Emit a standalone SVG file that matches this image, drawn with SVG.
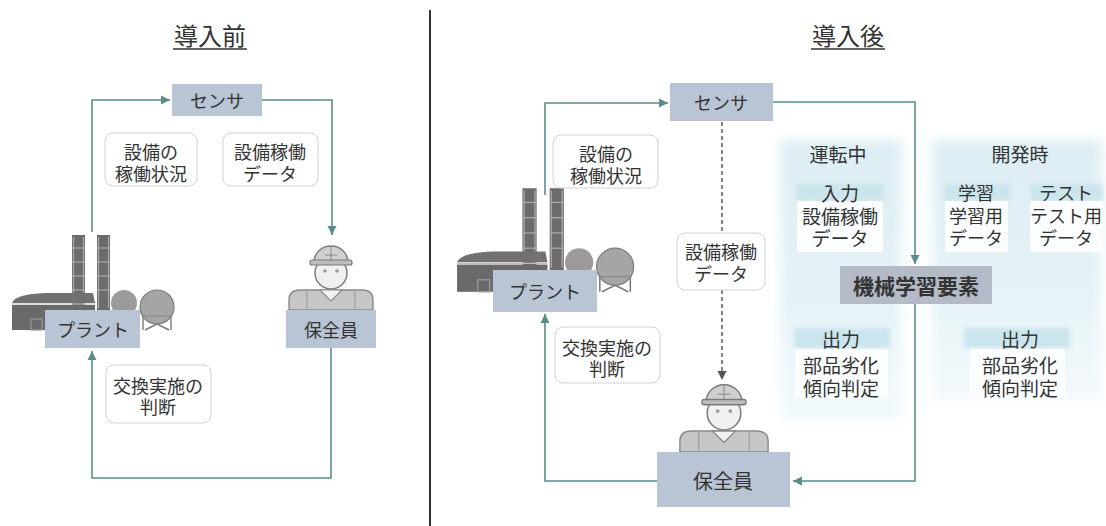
<svg xmlns="http://www.w3.org/2000/svg" width="1106" height="526" viewBox="0 0 1106 526">
  <style>
    text { font-family: "Noto Sans CJK JP", "Noto Sans", sans-serif; fill: #333; text-anchor: middle; dominant-baseline: central; }
    .title { font-size: 24px; }
    .node { fill: #b9c4d4; }
    .nodeText { font-size: 18px; }
    .label { fill: #ffffff; stroke: #d2d2d2; stroke-width: 1; }
    .labelText { font-size: 18px; }
    .flow { fill: none; stroke: #5a8c88; stroke-width: 1.6; }
    .dashed { fill: none; stroke: #666; stroke-width: 1.6; stroke-dasharray: 4 3; }
    .band { fill: #cbe5ed; }
    .cell { fill: #fbfdfe; }
    .mlText { font-size: 19px; }
    .small { font-size: 18px; }
  </style>
  <defs>
    <marker id="arrow" markerUnits="userSpaceOnUse" markerWidth="10" markerHeight="10" refX="9" refY="5" orient="auto">
      <path d="M0,0.5 L9,5 L0,9.5 Z" fill="#5a8c88"/>
    </marker>
    <marker id="arrowDark" markerUnits="userSpaceOnUse" markerWidth="10" markerHeight="10" refX="9" refY="5" orient="auto">
      <path d="M0,0.5 L9,5 L0,9.5 Z" fill="#555"/>
    </marker>
    <filter id="soft" x="-20%" y="-20%" width="140%" height="140%">
      <feGaussianBlur stdDeviation="6"/>
    </filter>
    <filter id="softer" x="-20%" y="-50%" width="140%" height="200%">
      <feGaussianBlur stdDeviation="2"/>
    </filter>
    <linearGradient id="panelGrad" x1="0" y1="0" x2="0" y2="1">
      <stop offset="0" stop-color="#dcedf3"/>
      <stop offset="0.6" stop-color="#e6f3f7"/>
      <stop offset="1" stop-color="#f4fafc"/>
    </linearGradient>
    <!-- factory: chimneys, hall and two spherical tanks; origin = top-left of the name plate -->
    <g id="plantArt">
      <rect x="27" y="-75" width="13" height="72" fill="#6c6c6c"/>
      <rect x="52" y="-75" width="13" height="75" fill="#6c6c6c"/>
      <g stroke="#a9a9a9" stroke-width="1.2">
        <line x1="28.5" y1="-73" x2="28.5" y2="-5"/><line x1="38.5" y1="-73" x2="38.5" y2="-5"/>
        <line x1="53.5" y1="-73" x2="53.5" y2="-2"/><line x1="63.5" y1="-73" x2="63.5" y2="-2"/>
        <line x1="27" y1="-62" x2="40" y2="-62"/><line x1="27" y1="-48" x2="40" y2="-48"/><line x1="27" y1="-34" x2="40" y2="-34"/><line x1="27" y1="-20" x2="40" y2="-20"/>
        <line x1="52" y1="-62" x2="65" y2="-62"/><line x1="52" y1="-48" x2="65" y2="-48"/><line x1="52" y1="-34" x2="65" y2="-34"/><line x1="52" y1="-20" x2="65" y2="-20"/>
      </g>
      <path d="M-33,-7 Q-30,-16 0,-17 L48,-17 L50,-7 Z" fill="#717171"/>
      <rect x="-33" y="-5" width="83" height="25" fill="#6a6a6a"/>
      <line x1="-33" y1="-6" x2="50" y2="-6" stroke="#bdbdbd" stroke-width="1.2"/>
      <rect x="-14" y="9" width="11" height="11" fill="none" stroke="#9a9a9a" stroke-width="1.2"/>
      <circle cx="79" cy="-7" r="13" fill="#9b9b9b"/>
      <g stroke="#7a7a7a" stroke-width="1.4" fill="none">
        <line x1="98" y1="4" x2="98" y2="20"/><line x1="126" y1="4" x2="126" y2="20"/>
        <line x1="100" y1="8" x2="124" y2="20"/><line x1="124" y1="8" x2="100" y2="20"/>
      </g>
      <circle cx="112" cy="-3" r="17" fill="#a5a5a5" stroke="#7d7d7d" stroke-width="1.2"/>
      <line x1="98" y1="6" x2="126" y2="6" stroke="#888" stroke-width="1"/>
    </g>
    <!-- maintenance worker with hard hat; origin = top centre of the name plate -->
    <g id="workerArt">
      <path d="M-42,0 L-42,-10 Q-42,-20 -31,-20 L31,-20 Q42,-20 42,-10 L42,0 Z" fill="#c6c6c6" stroke="#8a8a8a" stroke-width="1.4"/>
      <path d="M-11,-20 L0,-9 L11,-20 Z" fill="#f2f2f2" stroke="#8a8a8a" stroke-width="1.2"/>
      <line x1="-24" y1="-20" x2="-24" y2="0" stroke="#9a9a9a" stroke-width="1"/>
      <line x1="24" y1="-20" x2="24" y2="0" stroke="#9a9a9a" stroke-width="1"/>
      <circle cx="0" cy="-37" r="16" fill="#f0f0f0" stroke="#7e7e7e" stroke-width="1.5"/>
      <circle cx="-6" cy="-39" r="1.8" fill="#9a9a9a"/>
      <circle cx="6" cy="-39" r="1.8" fill="#9a9a9a"/>
      <path d="M-17,-48 A17,16 0 0 1 17,-48 Z" fill="#d0d0d0" stroke="#7a7a7a" stroke-width="1.4"/>
      <rect x="-21" y="-50" width="42" height="5" rx="2" fill="#bdbdbd" stroke="#7a7a7a" stroke-width="1.2"/>
      <line x1="0" y1="-63" x2="0" y2="-50" stroke="#8a8a8a" stroke-width="1"/>
      <line x1="-6" y1="-55" x2="6" y2="-55" stroke="#8a8a8a" stroke-width="1"/>
    </g>
  </defs>

  <rect width="1106" height="526" fill="#ffffff"/>

  <!-- panel divider -->
  <line x1="430" y1="10" x2="430" y2="526" stroke="#333" stroke-width="2"/>

  <!-- titles -->
  <g id="title-before">
    <text class="title" x="210" y="34">導入前</text>
    <line x1="173" y1="49" x2="247" y2="49" stroke="#333" stroke-width="1.5"/>
  </g>
  <g id="title-after">
    <text class="title" x="848" y="34">導入後</text>
    <line x1="811" y1="49" x2="885" y2="49" stroke="#333" stroke-width="1.5"/>
  </g>

  <!-- machine learning area backgrounds -->
  <g id="ml-background">
    <rect x="780" y="140" width="122" height="282" fill="url(#panelGrad)" filter="url(#soft)"/>
    <rect x="932" y="140" width="170" height="262" fill="url(#panelGrad)" filter="url(#soft)"/>
  </g>

  <!-- connectors -->
  <g id="connectors">
    <path class="flow" d="M92,232 V100 H170" marker-end="url(#arrow)"/>
    <path class="flow" d="M262,100 H332 V235" marker-end="url(#arrow)"/>
    <path class="flow" d="M331,348 V478 H92 V351" marker-end="url(#arrow)"/>
    <path class="flow" d="M545,195 V103 H668" marker-end="url(#arrow)"/>
    <path class="flow" d="M773,102 H915 V264" marker-end="url(#arrow)"/>
    <path class="flow" d="M915,304 V481 H793" marker-end="url(#arrow)"/>
    <path class="flow" d="M657,481 H545 V314" marker-end="url(#arrow)"/>
    <path class="dashed" d="M722,122 V232"/>
    <path class="dashed" d="M722,290 V380" marker-end="url(#arrowDark)"/>
  </g>

  <!-- before: nodes -->
  <g id="sensor-before">
    <rect class="node" x="172" y="84" width="90" height="32"/>
    <text class="nodeText" x="217" y="100">センサ</text>
  </g>
  <g id="plant-before">
    <use href="#plantArt" x="45" y="310"/>
    <rect class="node" x="45" y="310" width="95" height="38"/>
    <text class="nodeText" x="93" y="329">プラント</text>
  </g>
  <g id="worker-before">
    <use href="#workerArt" x="331" y="310"/>
    <rect class="node" x="286" y="310" width="90" height="38"/>
    <text class="nodeText" x="331" y="329">保全員</text>
  </g>
  <g id="label-status-before">
    <rect class="label" x="105" y="133" width="92" height="53" rx="8"/>
    <text class="labelText" x="151" y="151">設備の<tspan x="151" dy="22">稼働状況</tspan></text>
  </g>
  <g id="label-data-before">
    <rect class="label" x="223" y="133" width="95" height="53" rx="8"/>
    <text class="labelText" x="270" y="151">設備稼働<tspan x="270" dy="22">データ</tspan></text>
  </g>
  <g id="label-decision-before">
    <rect class="label" x="106" y="365" width="105" height="58" rx="8"/>
    <text class="labelText" x="158" y="385">交換実施の<tspan x="158" dy="21">判断</tspan></text>
  </g>

  <!-- after: nodes -->
  <g id="sensor-after">
    <rect class="node" x="670" y="83" width="103" height="38"/>
    <text class="nodeText" x="721" y="102">センサ</text>
  </g>
  <g id="plant-after">
    <use href="#plantArt" transform="translate(493,270) scale(1.09)"/>
    <rect class="node" x="493" y="270" width="104" height="42"/>
    <text class="nodeText" x="545" y="291">プラント</text>
  </g>
  <g id="worker-after">
    <use href="#workerArt" transform="translate(724,452) scale(1.05)"/>
    <rect class="node" x="657" y="452" width="133" height="55"/>
    <text class="nodeText" x="723" y="480" style="font-size:20px">保全員</text>
  </g>
  <g id="label-status-after">
    <rect class="label" x="553" y="135" width="105" height="53" rx="8"/>
    <text class="labelText" x="606" y="153">設備の<tspan x="606" dy="22">稼働状況</tspan></text>
  </g>
  <g id="label-data-after">
    <rect class="label" x="677" y="233" width="88" height="57" rx="8"/>
    <text class="labelText" x="721" y="251">設備稼働<tspan x="721" dy="22">データ</tspan></text>
  </g>
  <g id="label-decision-after">
    <rect class="label" x="555" y="327" width="105" height="56" rx="8"/>
    <text class="labelText" x="607" y="347">交換実施の<tspan x="607" dy="21">判断</tspan></text>
  </g>

  <!-- machine learning element and its inputs/outputs -->
  <g id="ml-running">
    <text class="mlText" x="838" y="153">運転中</text>
    <rect class="band" x="797" y="184" width="88" height="17" filter="url(#softer)"/>
    <rect class="cell" x="797" y="201" width="86" height="51"/>
    <text class="mlText" x="840" y="192">入力<tspan x="840" dy="23">設備稼働</tspan><tspan x="840" dy="22">データ</tspan></text>
  </g>
  <g id="ml-development">
    <text class="mlText" x="1020" y="153">開発時</text>
    <rect class="band" x="944" y="184" width="66" height="17" filter="url(#softer)"/>
    <rect class="band" x="1031" y="184" width="72" height="17" filter="url(#softer)"/>
    <rect class="cell" x="945" y="201" width="63" height="51"/>
    <rect class="cell" x="1030" y="201" width="73" height="51"/>
    <text class="mlText small" x="976" y="192">学習<tspan x="976" dy="23">学習用</tspan><tspan x="976" dy="22">データ</tspan></text>
    <text class="mlText small" x="1066" y="192">テスト<tspan x="1066" dy="23">テスト用</tspan><tspan x="1066" dy="22">データ</tspan></text>
  </g>
  <g id="ml-element">
    <rect x="840" y="266" width="152" height="38" fill="#b4bbc7"/>
    <text x="916" y="285" style="font-size:21px;font-weight:700">機械学習要素</text>
  </g>
  <g id="ml-output-running">
    <rect class="band" x="794" y="328" width="96" height="20" filter="url(#softer)"/>
    <rect class="cell" x="795" y="349" width="93" height="49"/>
    <text class="mlText" x="841" y="338">出力<tspan x="841" dy="26">部品劣化</tspan><tspan x="841" dy="23">傾向判定</tspan></text>
  </g>
  <g id="ml-output-development">
    <rect class="band" x="964" y="328" width="106" height="20" filter="url(#softer)"/>
    <rect class="cell" x="970" y="349" width="95" height="49"/>
    <text class="mlText" x="1020" y="338">出力<tspan x="1020" dy="26">部品劣化</tspan><tspan x="1020" dy="23">傾向判定</tspan></text>
  </g>
</svg>
